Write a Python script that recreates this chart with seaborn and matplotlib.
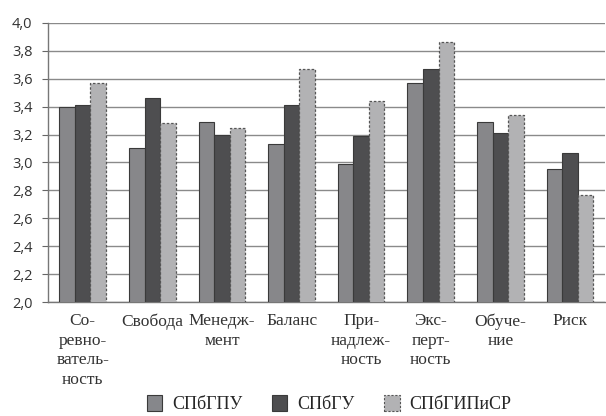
import seaborn as sns
import matplotlib.pyplot as plt
import pandas as pd
from matplotlib.patches import Patch

# данные
categories = ["Со-\nревно-\nватель-\nность", "Свобода", "Менедж-\nмент", "Баланс",
              "При-\nнадлеж-\nность", "Экс-\nперт-\nность", "Обуче-\nние", "Риск"]
spbgpu = [3.40, 3.10, 3.29, 3.13, 2.99, 3.57, 3.29, 2.95]
spbgu = [3.41, 3.46, 3.20, 3.41, 3.19, 3.67, 3.21, 3.07]
spbgipisr = [3.57, 3.28, 3.25, 3.67, 3.44, 3.86, 3.34, 2.77]
series = ["СПбГПУ", "СПбГУ", "СПбГИПиСР"]
colors = ["#86878b", "#4e4e50", "#b2b2b4"]

rows = []
for name, vals in zip(series, [spbgpu, spbgu, spbgipisr]):
    for cat, v in zip(categories, vals):
        rows.append({"cat": cat, "val": v, "series": name})
df = pd.DataFrame(rows)

sns.set_style("white")
fig = plt.figure(figsize=(6.06, 4.16), dpi=100)
ax = fig.add_axes([0.079, 0.274, 0.919, 0.671])

sns.barplot(data=df, x="cat", y="val", hue="series", palette=colors,
            width=0.67, gap=0, ax=ax, legend=False, zorder=3)

# обводка столбцов
for i, cont in enumerate(ax.containers):
    for bar in cont:
        if i == 2:
            bar.set_edgecolor("#555555")
            bar.set_linestyle((0, (2, 1.5)))
            bar.set_linewidth(0.9)
        else:
            bar.set_edgecolor("#3a3a3a")
            bar.set_linewidth(0.8)

ax.set_ylim(2.0, 4.0)
ax.set_xlim(-0.5, len(categories) - 0.5)
yt = [2.0 + 0.2 * k for k in range(11)]
ax.set_yticks(yt)
ax.set_yticklabels([f"{v:.1f}".replace(".", ",") for v in yt],
                   fontfamily="Open Sans", fontsize=10.5, color="#333333")
ax.yaxis.grid(True, color="#8a8a8a", linewidth=1.0, zorder=0)
ax.set_axisbelow(True)

ax.set_xticks(range(len(categories)))
ax.set_xticklabels(categories, fontfamily="Liberation Serif", fontsize=12.5,
                   color="#333333", linespacing=1.3, va="top")
ax.tick_params(axis="x", which="major", length=0, pad=8)
ax.set_xticks([k + 0.5 for k in range(len(categories))], minor=True)
ax.tick_params(axis="x", which="minor", length=4, color="#666666", direction="out")
ax.tick_params(axis="y", length=4, color="#666666", direction="out", left=True, pad=7)

ax.set_xlabel("")
ax.set_ylabel("")
for s in ["top", "right"]:
    ax.spines[s].set_visible(False)
for s in ["left", "bottom"]:
    ax.spines[s].set_color("#777777")
    ax.spines[s].set_linewidth(1.0)

handles = [Patch(facecolor=colors[0], edgecolor="#3a3a3a", linewidth=0.8),
           Patch(facecolor=colors[1], edgecolor="#3a3a3a", linewidth=0.8),
           Patch(facecolor=colors[2], edgecolor="#555555", linewidth=0.8,
                 linestyle=(0, (2, 1.5)))]
fig.legend(handles, series, loc="center", bbox_to_anchor=(0.543, 0.028), ncol=3,
           frameon=False, prop={"family": "Liberation Serif", "size": 13},
           handlelength=0.85, handleheight=1.0, columnspacing=1.65,
           handletextpad=0.55, borderpad=0)

fig.savefig("out.png", dpi=100)
plt.close(fig)
